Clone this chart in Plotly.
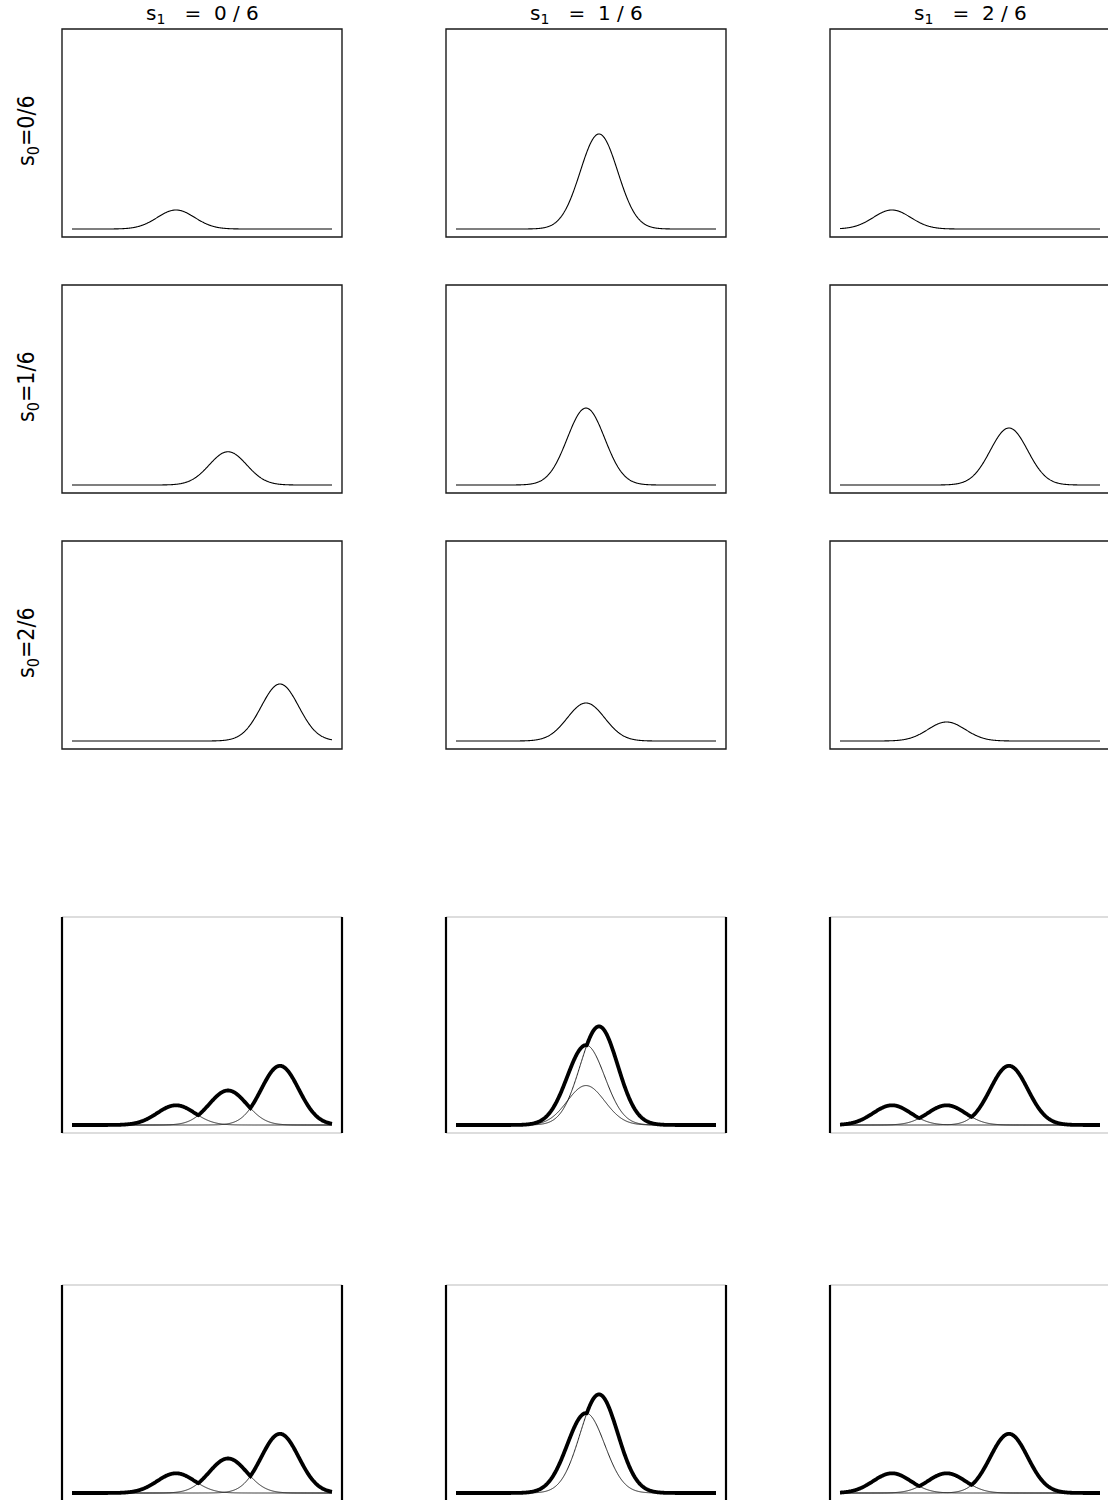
import numpy as np
import plotly.graph_objects as go

# ---- data ----
NB = "\u00a0"
col_titles = [
    f"s<sub>1</sub>{NB*3}={NB*2}0{NB}/{NB}6",
    f"s<sub>1</sub>{NB*3}={NB*2}1{NB}/{NB}6",
    f"s<sub>1</sub>{NB*3}={NB*2}2{NB}/{NB}6",
]
row_labels = ["s<sub>0</sub>=0/6", "s<sub>0</sub>=1/6", "s<sub>0</sub>=2/6"]

# peak centres (x in 0..1) for grid rows (s0) x columns (s1)
centers = [
    [0.40, 0.55, 0.20],
    [0.60, 0.50, 0.65],
    [0.80, 0.50, 0.41],
]
# peak heights (arbitrary units)
heights = [
    [1.00, 5.00, 1.00],
    [1.75, 4.05, 3.00],
    [3.00, 2.00, 1.00],
]
sigma = 0.072
# which grid rows are overlaid in the two summary rows, per column
summary_rows = [
    [[0, 1, 2], [0, 1, 2], [0, 1, 2]],
    [[0, 1, 2], [0, 1], [0, 1, 2]],
]

W, H = 1108, 1500
col_px = [(62, 342), (446, 726), (830, 1108)]
col_right_border = [342, 726, 1110]
row_px = [(29, 237), (285, 493), (541, 749), (917, 1133), (1285, 1500)]
row_box_bottom = [237, 493, 749, 1133, 1501]
baseline_px = [229, 485, 741, 1125, 1493]
unit_px = [19.0, 19.0, 19.0, 19.72, 19.72]
curve_off, curve_len = 10, 260

xs = np.linspace(0, 1, 600)


def curve(c, h):
    return h * np.exp(-0.5 * ((xs - c) / sigma) ** 2)


def px_x(v):
    return v / W


def px_y(v):
    return 1 - v / H


fig = go.Figure()
layout = {}
shapes = []

for r in range(5):
    for c in range(3):
        k = r * 3 + c + 1
        xl, xr = col_px[c]
        yt, yb = row_px[r]
        xa = "xaxis" if k == 1 else f"xaxis{k}"
        ya = "yaxis" if k == 1 else f"yaxis{k}"
        xref = "x" if k == 1 else f"x{k}"
        yref = "y" if k == 1 else f"y{k}"
        layout[xa] = dict(
            domain=[px_x(xl), px_x(xr)],
            range=[-curve_off / curve_len, (xr - xl - curve_off) / curve_len],
            visible=False, anchor=yref, fixedrange=True,
        )
        layout[ya] = dict(
            domain=[px_y(yb), px_y(yt)],
            range=[-(yb - baseline_px[r]) / unit_px[r], (baseline_px[r] - yt) / unit_px[r]],
            visible=False, anchor=xref, fixedrange=True,
        )
        x0p, x1p = px_x(xl), px_x(col_right_border[c])
        y0p, y1p = px_y(row_box_bottom[r]), px_y(yt)
        if r < 3:
            shapes.append(dict(type="rect", xref="paper", yref="paper",
                               x0=x0p, x1=x1p, y0=y0p, y1=y1p,
                               line=dict(color="#1a1a1a", width=1.4)))
            fig.add_trace(go.Scatter(x=xs, y=curve(centers[r][c], heights[r][c]),
                                     mode="lines",
                                     line=dict(color="black", width=1.1, simplify=False),
                                     xaxis=xref, yaxis=yref, hoverinfo="skip"))
        else:
            for (xa0, xa1, ya0, ya1, col, wd) in [
                (x0p, x1p, y1p, y1p, "#bbbbbb", 1),
                (x0p, x1p, y0p, y0p, "#bbbbbb", 1),
                (x0p, x0p, y0p, y1p, "black", 2.2),
                (x1p, x1p, y0p, y1p, "black", 2.2),
            ]:
                shapes.append(dict(type="line", xref="paper", yref="paper",
                                   x0=xa0, x1=xa1, y0=ya0, y1=ya1,
                                   line=dict(color=col, width=wd)))
            rows_in = summary_rows[r - 3][c]
            ys = [curve(centers[i][c], heights[i][c]) for i in rows_in]
            for y in ys:
                fig.add_trace(go.Scatter(x=xs, y=y, mode="lines",
                                         line=dict(color="#222222", width=1.0, simplify=False),
                                         xaxis=xref, yaxis=yref, hoverinfo="skip"))
            env = np.max(np.vstack(ys), axis=0)
            fig.add_trace(go.Scatter(x=xs, y=env, mode="lines",
                                     line=dict(color="black", width=3.8, simplify=False),
                                     xaxis=xref, yaxis=yref, hoverinfo="skip"))

annotations = []
for c in range(3):
    cx = col_px[c][0] + 140
    annotations.append(dict(text=col_titles[c], xref="paper", yref="paper",
                            x=px_x(cx), y=px_y(14), showarrow=False,
                            xanchor="center", yanchor="middle",
                            font=dict(family="DejaVu Sans", size=20, color="black")))
for r in range(3):
    cy = (row_px[r][0] + row_px[r][1]) / 2
    annotations.append(dict(text=row_labels[r], xref="paper", yref="paper",
                            x=px_x(28), y=px_y(cy - 3), showarrow=False, textangle=-90,
                            xanchor="center", yanchor="middle",
                            font=dict(family="DejaVu Sans Condensed, Liberation Sans Narrow, DejaVu Sans",
                                      size=23, color="black")))

fig.update_layout(
    width=W, height=H,
    margin=dict(l=0, r=0, t=0, b=0),
    paper_bgcolor="white", plot_bgcolor="white",
    showlegend=False,
    shapes=shapes, annotations=annotations,
    **layout,
)

fig.write_html("out.html", config={"displayModeBar": False},
               post_script="document.body.style.margin='0';document.body.style.overflow='hidden';")
